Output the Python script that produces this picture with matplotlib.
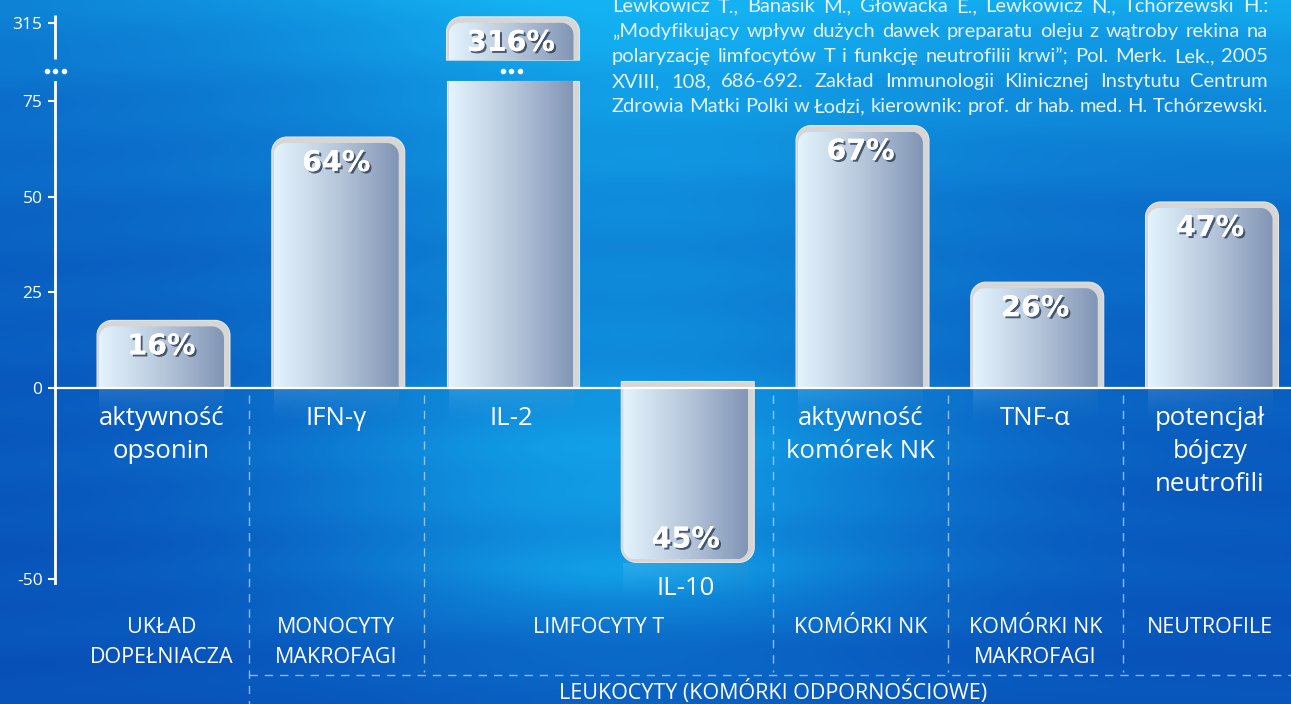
import numpy as np
import matplotlib
matplotlib.use("Agg")
import matplotlib.pyplot as plt
from matplotlib.path import Path
from matplotlib.patches import PathPatch
from matplotlib.colors import LinearSegmentedColormap
import matplotlib.patheffects as pe
import matplotlib.transforms as mtransforms

# ---------------- data ----------------
categories = ["aktywność\nopsonin", "IFN-γ", "IL-2", "IL-10",
              "aktywność\nkomórek NK", "TNF-α", "potencjał\nbójczy\nneutrofili"]
values = [16, 64, 316, -45, 67, 26, 47]
groups = ["UKŁAD\nDOPEŁNIACZA", "MONOCYTY\nMAKROFAGI", "LIMFOCYTY T",
          "KOMÓRKI NK", "KOMÓRKI NK\nMAKROFAGI", "NEUTROFILE"]
group_members = [[0], [1], [2, 3], [4], [5], [6]]
super_label = "LEUKOCYTY (KOMÓRKI ODPORNOŚCIOWE)"
super_members = [1, 2, 3, 4, 5, 6]
ytick_values = [-50, 0, 25, 50, 75, 315]
ytick_labels = ["-50", "0", "25", "50", "75", "315"]
citation_lines = [
    "Lewkowicz T., Banasik M., Głowacka E., Lewkowicz N., Tchórzewski H.:",
    "„Modyfikujący wpływ dużych dawek preparatu oleju z wątroby rekina na",
    "polaryzację limfocytów T i funkcję neutrofilii krwi”; Pol. Merk. Lek., 2005",
    "XVIII, 108, 686-692. Zakład Immunologii Klinicznej Instytutu Centrum",
    "Zdrowia Matki Polki w Łodzi, kierownik: prof. dr hab. med. H. Tchórzewski.",
]

# ---------------- broken y scale ----------------
BRK = 80.0
K = 0.0655


def fwd(v):
    v = np.asarray(v, dtype=float)
    return np.where(v <= BRK, v, BRK + (v - BRK) * K)


def inv(u):
    u = np.asarray(u, dtype=float)
    return np.where(u <= BRK, u, BRK + (u - BRK) / K)


W, H = 1291, 704
fig = plt.figure(figsize=(W / 100, H / 100), dpi=100)
px = fig.add_axes([0, 0, 1, 1], zorder=0)
px.set_xlim(0, W)
px.set_ylim(H, 0)
px.set_autoscale_on(False)
px.axis("off")

ax = fig.add_axes([0, 0, 1, 1], zorder=1)
ax.patch.set_alpha(0)
ax.set_yscale("function", functions=(fwd, inv))
ax.set_xlim(-0.9242, 6.4635)
ax.set_ylim(-82.85, float(inv(101.44)))
ax.set_autoscale_on(False)

# ---------------- background ----------------
yy, xx = np.mgrid[0:H, 0:W].astype(float)
side = 0.12 + 0.65 * np.exp(-yy / 240.0) * (0.68 + 0.32 * xx / W)
c = np.exp(-((xx - 620) / 330.0) ** 2)
fade = 1 - 0.55 / (1 + np.exp(-(yy - 640) / 20.0))
cen = (0.30 + 0.32 * np.exp(-((yy - 470) / 120.0) ** 2)) * fade
band = 0.2 * np.exp(-((yy - 575) / 25.0) ** 2) * np.exp(-((xx - 640) / 200.0) ** 2)
topright = 0.15 * np.exp(-(yy / 160.0) ** 2) * (xx / W)
streak = (0.018 * np.sin(yy / 9.0 + 2.5 * np.sin(xx / 400.0))
          + 0.012 * np.sin(yy / 23.0 + xx / 520.0))
t = np.clip(side + c * cen + band + topright + streak, 0, 1)[..., None]
D = np.array([6, 66, 176]) / 255.0
L = np.array([20, 178, 242]) / 255.0
bg = D + (L - D) * t
px.imshow(bg, extent=(0, W, H, 0), aspect="auto", zorder=0, interpolation="bilinear")


def to_px(x, y):
    d = ax.transData.transform(np.array([[x, y]], dtype=float))
    return px.transData.inverted().transform(d)[0]


KAPPA = 0.5523


def rrect(x0, x1, y0, y1, rt, rb):
    v, cd = [], []
    v.append((x0, y0 + rt)); cd.append(Path.MOVETO)
    if rt > 0:
        v += [(x0, y0 + rt - KAPPA * rt), (x0 + rt - KAPPA * rt, y0), (x0 + rt, y0)]
        cd += [Path.CURVE4] * 3
    v.append((x1 - rt, y0)); cd.append(Path.LINETO)
    if rt > 0:
        v += [(x1 - rt + KAPPA * rt, y0), (x1, y0 + rt - KAPPA * rt), (x1, y0 + rt)]
        cd += [Path.CURVE4] * 3
    v.append((x1, y1 - rb)); cd.append(Path.LINETO)
    if rb > 0:
        v += [(x1, y1 - rb + KAPPA * rb), (x1 - rb + KAPPA * rb, y1), (x1 - rb, y1)]
        cd += [Path.CURVE4] * 3
    v.append((x0 + rb, y1)); cd.append(Path.LINETO)
    if rb > 0:
        v += [(x0 + rb - KAPPA * rb, y1), (x0, y1 - rb + KAPPA * rb), (x0, y1 - rb)]
        cd += [Path.CURVE4] * 3
    v.append((x0, y0 + rt)); cd.append(Path.CLOSEPOLY)
    return Path(v, cd)


bar_cmap = LinearSegmentedColormap.from_list("bar", ["#e3f4fe", "#b8c8dc", "#8195b5"])
grad = np.linspace(0, 1, 256)[None, :]
BAR_W = 0.715
BAR_BREAK = 100.0
SEG_LO, SEG_HI = 83.0, 167.0
GRAY = "#d6d6d6"
R_IN, R_OUT = 12, 15

for i, v in enumerate(values):
    if v > BAR_BREAK:
        segs = [(0.0, SEG_LO, False), (SEG_HI, float(v), True)]
    else:
        segs = [(0.0, float(v), True)]
    for a, b, rounded_end in segs:
        xl = to_px(i - BAR_W / 2, 0)[0]
        xr = to_px(i + BAR_W / 2, 0)[0]
        ya = to_px(i, a)[1]
        yb = to_px(i, b)[1]
        top, bot = min(ya, yb), max(ya, yb)
        if v >= 0:
            rt = R_IN if rounded_end else 0
            rb = 0
            gtop = top - 6 if rounded_end else top
            gbot = bot
            grt = R_OUT if rounded_end else 0
            grb = 0
        else:
            rt, rb = 0, R_IN
            gtop, gbot = top - 6, bot + 3
            grt, grb = 0, R_OUT
        gray = PathPatch(rrect(xl - 2, xr + 6, gtop, gbot, grt, grb),
                         facecolor=GRAY, edgecolor="#e6e6e6", lw=0.8, zorder=2)
        px.add_patch(gray)
        inner = PathPatch(rrect(xl, xr, top, bot, rt, rb), facecolor="none",
                          edgecolor="none", zorder=3)
        px.add_patch(inner)
        im = px.imshow(grad, cmap=bar_cmap, extent=(xl, xr, bot, top),
                       aspect="auto", zorder=3, interpolation="bilinear")
        im.set_clip_path(inner)
    if v > BAR_BREAK:
        xc = to_px(i, 0)[0]
        yd = to_px(i, 124.0)[1]
        px.plot(xc + np.array([-8.5, 0, 8.5]), [yd] * 3, "o", ms=3, color="white", zorder=4)

    # faint reflection
    xl = to_px(i - BAR_W / 2, 0)[0]
    xr = to_px(i + BAR_W / 2, 0)[0]
    if v >= 0:
        r0 = to_px(i, 0)[1] + 1
    else:
        r0 = to_px(i, v)[1] + 4
    r1 = r0 + 40
    cols = bar_cmap(np.linspace(0, 1, 64))[:, :3]
    alpha = 0.13 * (1 - np.linspace(0, 1, 48)) ** 1.8
    refl = np.zeros((48, 64, 4))
    refl[..., :3] = cols[None, :, :]
    refl[..., 3] = alpha[:, None]
    px.imshow(refl, extent=(xl, xr, r1, r0), aspect="auto", zorder=1.5,
              interpolation="bilinear")

# ---------------- axes decoration ----------------
AXIS_X = -0.609
for s in ["top", "right", "bottom"]:
    ax.spines[s].set_visible(False)
ax.spines["left"].set_position(("data", AXIS_X))
ax.spines["left"].set_bounds(-51.2, 80)
ax.spines["left"].set_color("white")
ax.spines["left"].set_linewidth(2.0)
ax.plot([AXIS_X, AXIS_X], [171.6, 347], color="white", lw=2.0, solid_capstyle="butt")
ax.plot(AXIS_X + np.array([-8.5, 0, 8.5]) / 174.75, [123.5] * 3, "o", ms=3,
        color="white", clip_on=False)
ax.set_yticks(ytick_values)
ax.set_yticklabels(ytick_labels)
ax.tick_params(axis="y", direction="out", length=5, width=1.5, colors="white",
               labelsize=12.5, pad=4)
for lab in ax.get_yticklabels():
    lab.set_fontfamily(["Open Sans", "DejaVu Sans"])
ax.set_xticks([])
ax.hlines(0, AXIS_X, 6.4635, color="white", lw=1.6, zorder=5)

bt = mtransforms.blended_transform_factory(ax.transData, px.transData)
label_font = dict(family=["Open Sans", "DejaVu Sans"], color="white")

# value labels
for i, v in enumerate(values):
    if v >= 0:
        yv = to_px(i, v)[1] + 20
    else:
        yv = to_px(i, v)[1] - 20
    txt = ax.text(i, yv, f"{abs(v)}%", transform=bt, ha="center", va="center",
                  fontsize=20.5, fontweight="bold", family=["DejaVu Sans"],
                  color="white", zorder=10)
    txt.set_path_effects([pe.withSimplePatchShadow(offset=(1.5, -1.5),
                                                   shadow_rgbFace="#2b3c55", alpha=0.8),
                          pe.Normal()])

# category labels
for i, (cat, v) in enumerate(zip(categories, values)):
    base = 425 if v >= 0 else to_px(i, v)[1] + 36
    for j, line in enumerate(cat.split("\n")):
        ax.text(i, base + 33 * j, line, transform=bt, ha="center", va="baseline",
                fontsize=18.5, **label_font)

# group labels
for g, mem in zip(groups, group_members):
    xc = np.mean(mem)
    for j, line in enumerate(g.split("\n")):
        ax.text(xc, 633 + 30 * j, line, transform=bt, ha="center", va="baseline",
                fontsize=15.5, **label_font)
ax.text(np.mean(super_members), 699, super_label, transform=bt, ha="center",
        va="baseline", fontsize=15.5, **label_font)

# separators
dash_kw = dict(color="#b9d9ff", lw=1.0, alpha=0.75, dashes=(6, 5), transform=bt)
sup_left = min(super_members) - 0.5
for k in range(len(group_members) - 1):
    xs = (group_members[k][-1] + group_members[k + 1][0]) / 2
    yend = H if abs(xs - sup_left) < 1e-9 else 672
    ax.plot([xs, xs], [395, yend], **dash_kw)
ax.plot([sup_left, 6.4635], [675, 675], **dash_kw)

# ---------------- citation (justified) ----------------
renderer = fig.canvas.get_renderer()
X0, X1 = 612, 1268
cit_size = 14.5
cit_kw = dict(family=["Lato", "DejaVu Sans"], color="#e3f2ff", ha="left", va="baseline",
              zorder=10)
all_texts = []
for j, line in enumerate(citation_lines):
    words = line.split(" ")
    ts = [px.text(0, 12 + 25 * j, w, fontsize=cit_size, **cit_kw) for w in words]
    all_texts.append(ts)


def measure():
    res = []
    for ts in all_texts:
        res.append([tt.get_window_extent(renderer).width for tt in ts])
    return res


widths = measure()
need = max((sum(ws) + 4.0 * (len(ws) - 1)) / (X1 - X0) for ws in widths)
if need > 1:
    for ts in all_texts:
        for tt in ts:
            tt.set_fontsize(cit_size / need)
    widths = measure()
for ts, ws in zip(all_texts, widths):
    gap = (X1 - X0 - sum(ws)) / (len(ws) - 1)
    x = X0
    for tt, w in zip(ts, ws):
        tt.set_x(x)
        x += w + gap

fig.savefig("out.png", dpi=100)
